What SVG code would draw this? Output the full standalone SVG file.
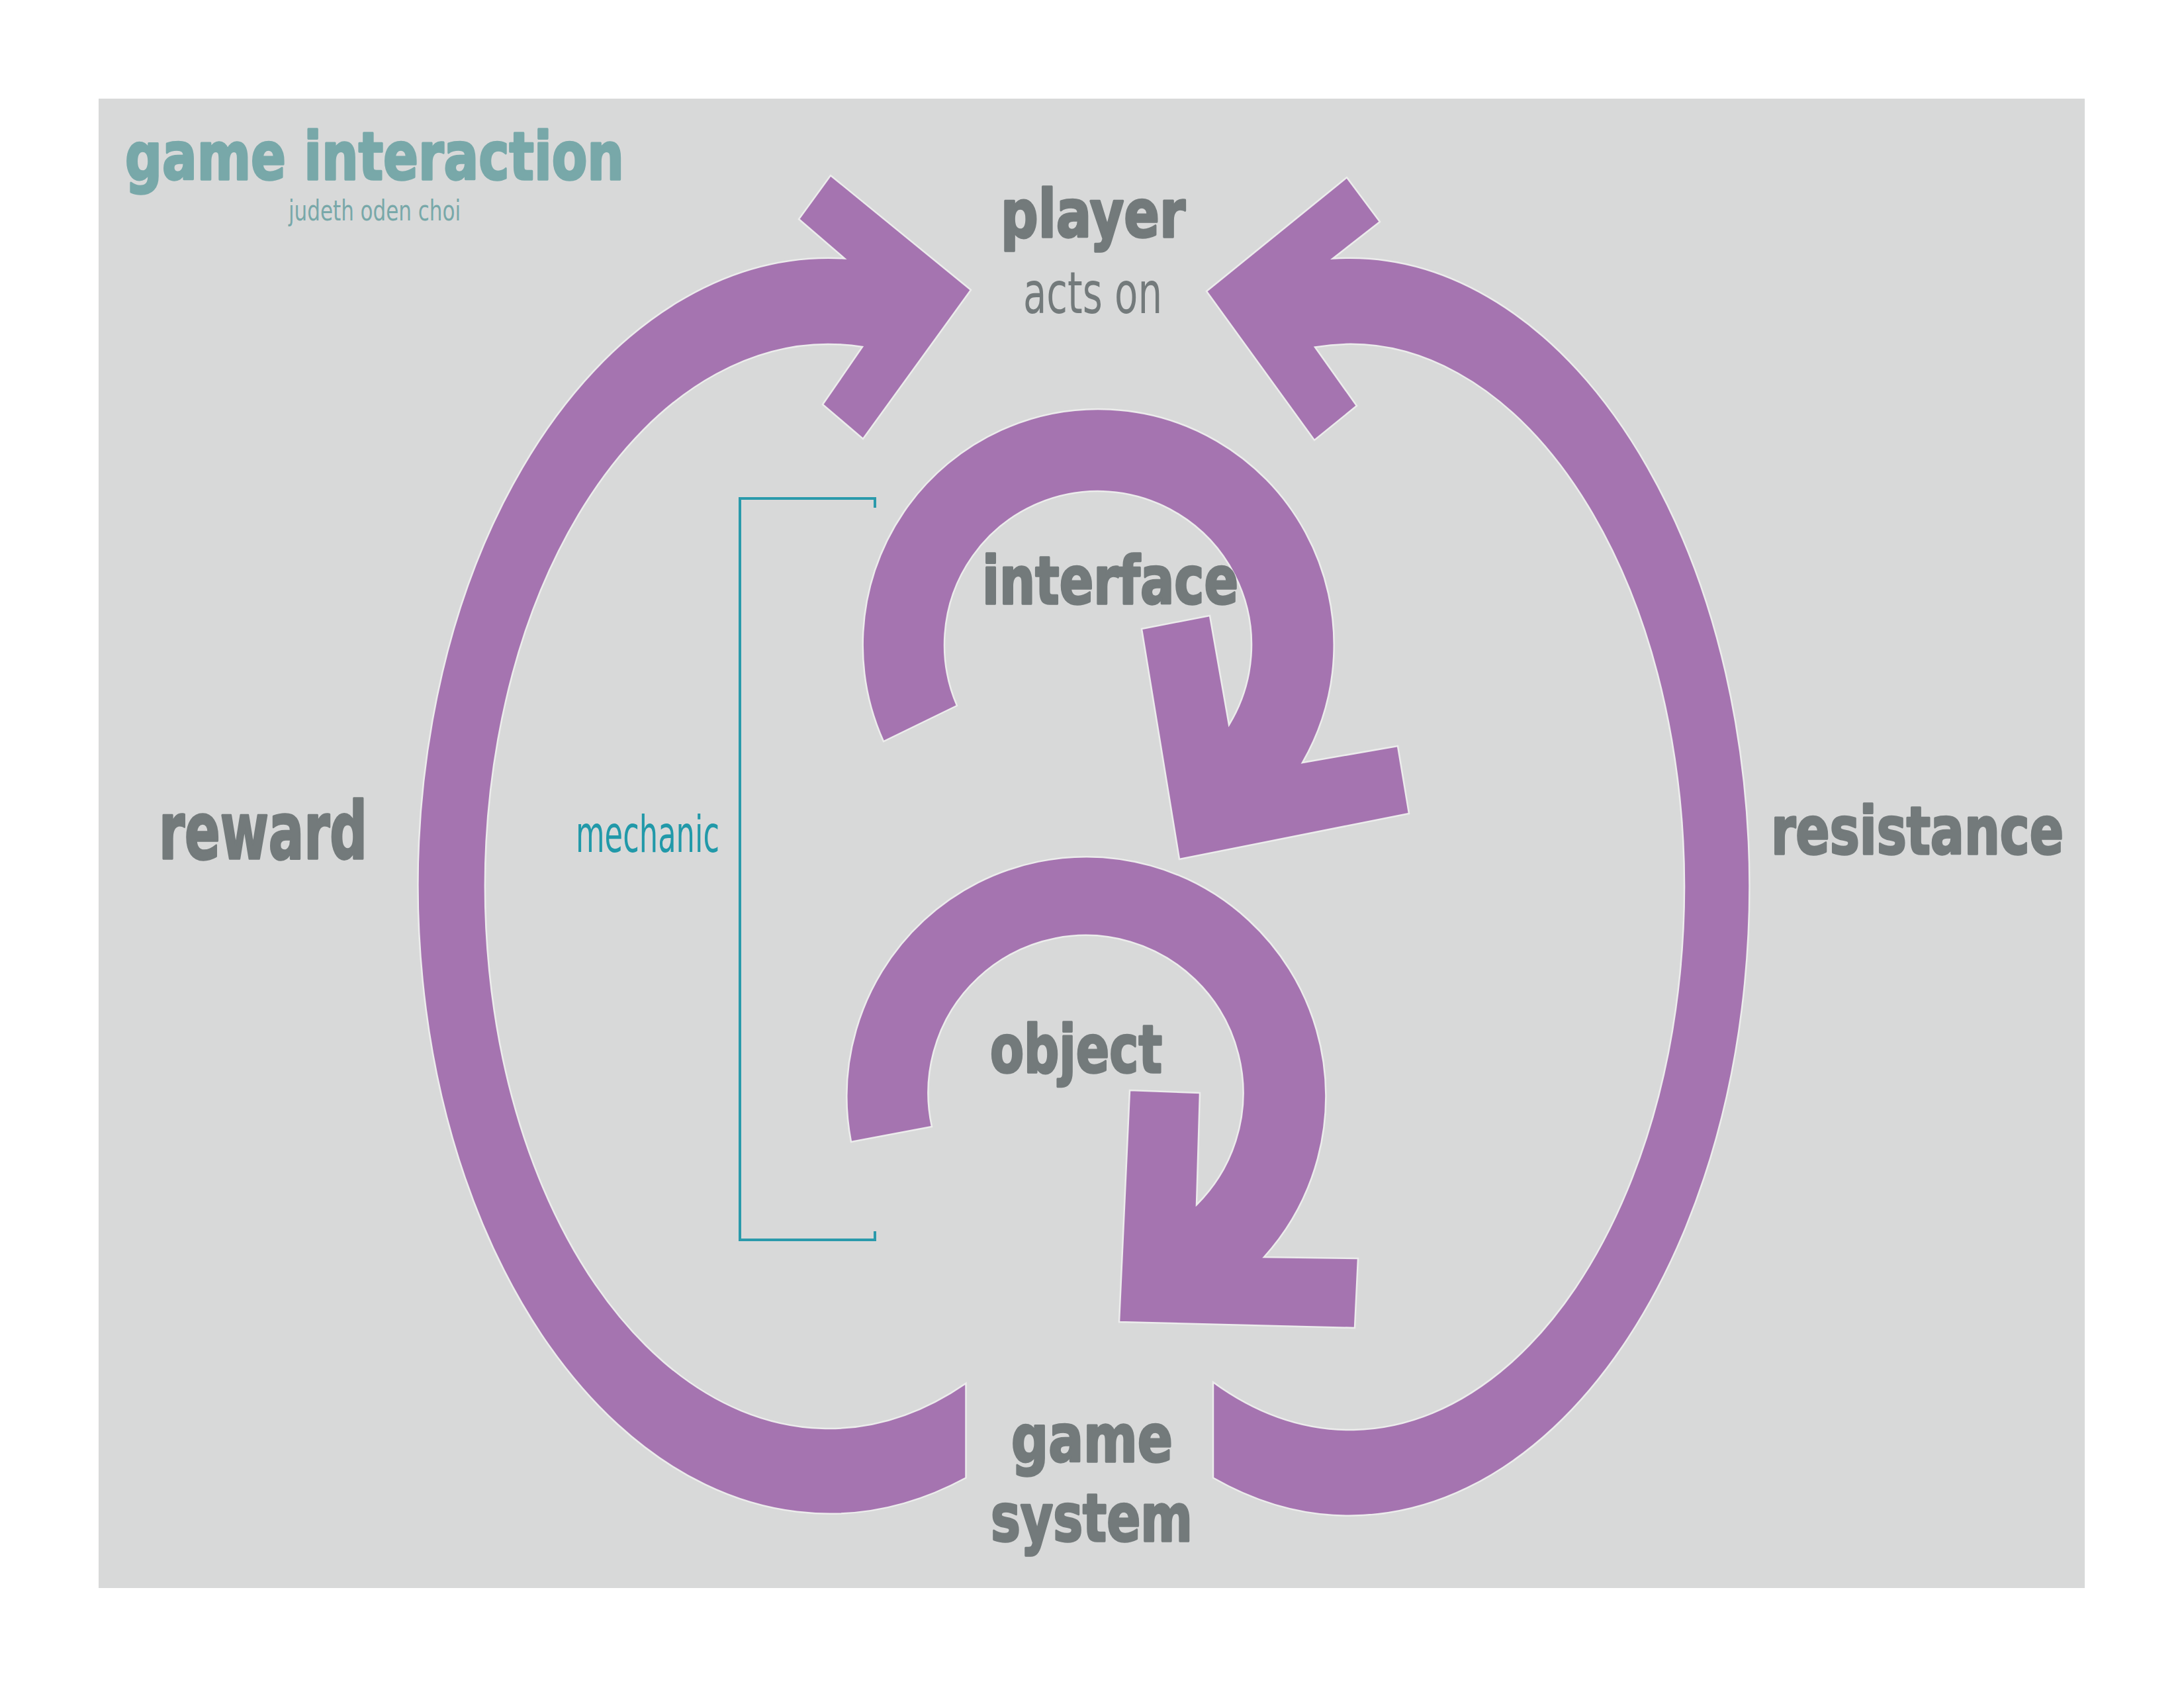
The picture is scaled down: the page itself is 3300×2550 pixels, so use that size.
<svg xmlns="http://www.w3.org/2000/svg" width="3300" height="2550" viewBox="0 0 3300 2550">
<style>
.arrow{fill:#a574b0;stroke:#ececec;stroke-width:2.5;stroke-linejoin:miter}
.big{font-family:"DejaVu Sans","Liberation Sans",sans-serif;font-weight:bold;fill:#737a7b;stroke:#737a7b;stroke-width:3.5;stroke-linejoin:round}
.thin{font-family:"Liberation Sans Narrow","DejaVu Sans Condensed","Liberation Sans",sans-serif;font-weight:normal}
.title{fill:#78a8a9;stroke:#78a8a9}
.sub{fill:#78a8a9}
.mech{fill:#2199a9}
.bracket{fill:none;stroke:#2a9aab;stroke-width:4}
</style>
<rect x="0" y="0" width="3300" height="2550" fill="#ffffff"/>
<rect x="149" y="149" width="3001" height="2250" fill="#d8d9d9"/>

<g id="title">
<text class="big title" x="189" y="271" font-size="100" textLength="754" lengthAdjust="spacingAndGlyphs">game interaction</text>
<text class="thin sub" x="436" y="333" font-size="42" textLength="260" lengthAdjust="spacingAndGlyphs">judeth oden choi</text>
</g>

<g id="connectors">
<path id="reward-loop" class="arrow" d="M 1276 390.4 L 1207 331 L 1255 265 L 1467 438 L 1304 663 L 1243 611 L 1303 524 A 519 819 0 1 0 1459.5 2089.7 L 1459.5 2232.5 A 621 948.5 0 1 1 1276 390.4 Z"/>
<path id="resistance-loop" class="arrow" d="M 2014 390.5 L 2085 335 L 2035 268 L 1823 440 L 1986 665 L 2050 613 L 1987 524.5 A 505 820 0 1 1 1833 2088 L 1833 2232.5 A 604 950 0 1 0 2014 390.5 Z"/>
<path id="interface-loop" class="arrow" d="M 1335 1120 A 356 356 0 1 1 1968 1152 L 2112 1127 L 2129 1229 L 1782 1298 L 1725 950 L 1828 930 L 1857 1095 A 232 232 0 1 0 1446 1066 Z"/>
<path id="object-loop" class="arrow" d="M 1286 1725 A 362 362 0 1 1 1910 1899 L 2052 1901 L 2047 2006 L 1691 1997 L 1707 1647 L 1813 1651 L 1808 1820 A 238 238 0 1 0 1408 1702 Z"/>
<path id="mechanic-bracket" class="bracket" d="M 1322 767 L 1322 753 L 1118 753 L 1118 1873 L 1322 1873 L 1322 1860"/>
</g>

<g id="player">
<text class="big" x="1512" y="358" font-size="100" textLength="279" lengthAdjust="spacingAndGlyphs">player</text>
<text class="thin" fill="#737a7b" x="1546" y="473" font-size="88" textLength="210" lengthAdjust="spacingAndGlyphs">acts on</text>
</g>
<g id="interface">
<text class="big" x="1484" y="912" font-size="100" textLength="387" lengthAdjust="spacingAndGlyphs">interface</text>
</g>
<g id="object">
<text class="big" x="1496" y="1620" font-size="100" textLength="260" lengthAdjust="spacingAndGlyphs">object</text>
</g>
<g id="game-system">
<text class="big" x="1528" y="2208" font-size="100" textLength="244" lengthAdjust="spacingAndGlyphs">game</text>
<text class="big" x="1497" y="2328" font-size="100" textLength="305" lengthAdjust="spacingAndGlyphs">system</text>
</g>
<g id="reward">
<text class="big" x="240" y="1297" font-size="120" textLength="315" lengthAdjust="spacingAndGlyphs">reward</text>
</g>
<g id="resistance">
<text class="big" x="2676" y="1290" font-size="100" textLength="442" lengthAdjust="spacingAndGlyphs">resistance</text>
</g>
<g id="mechanic">
<text class="thin mech" x="870" y="1287" font-size="76" textLength="217" lengthAdjust="spacingAndGlyphs">mechanic</text>
</g>
</svg>
